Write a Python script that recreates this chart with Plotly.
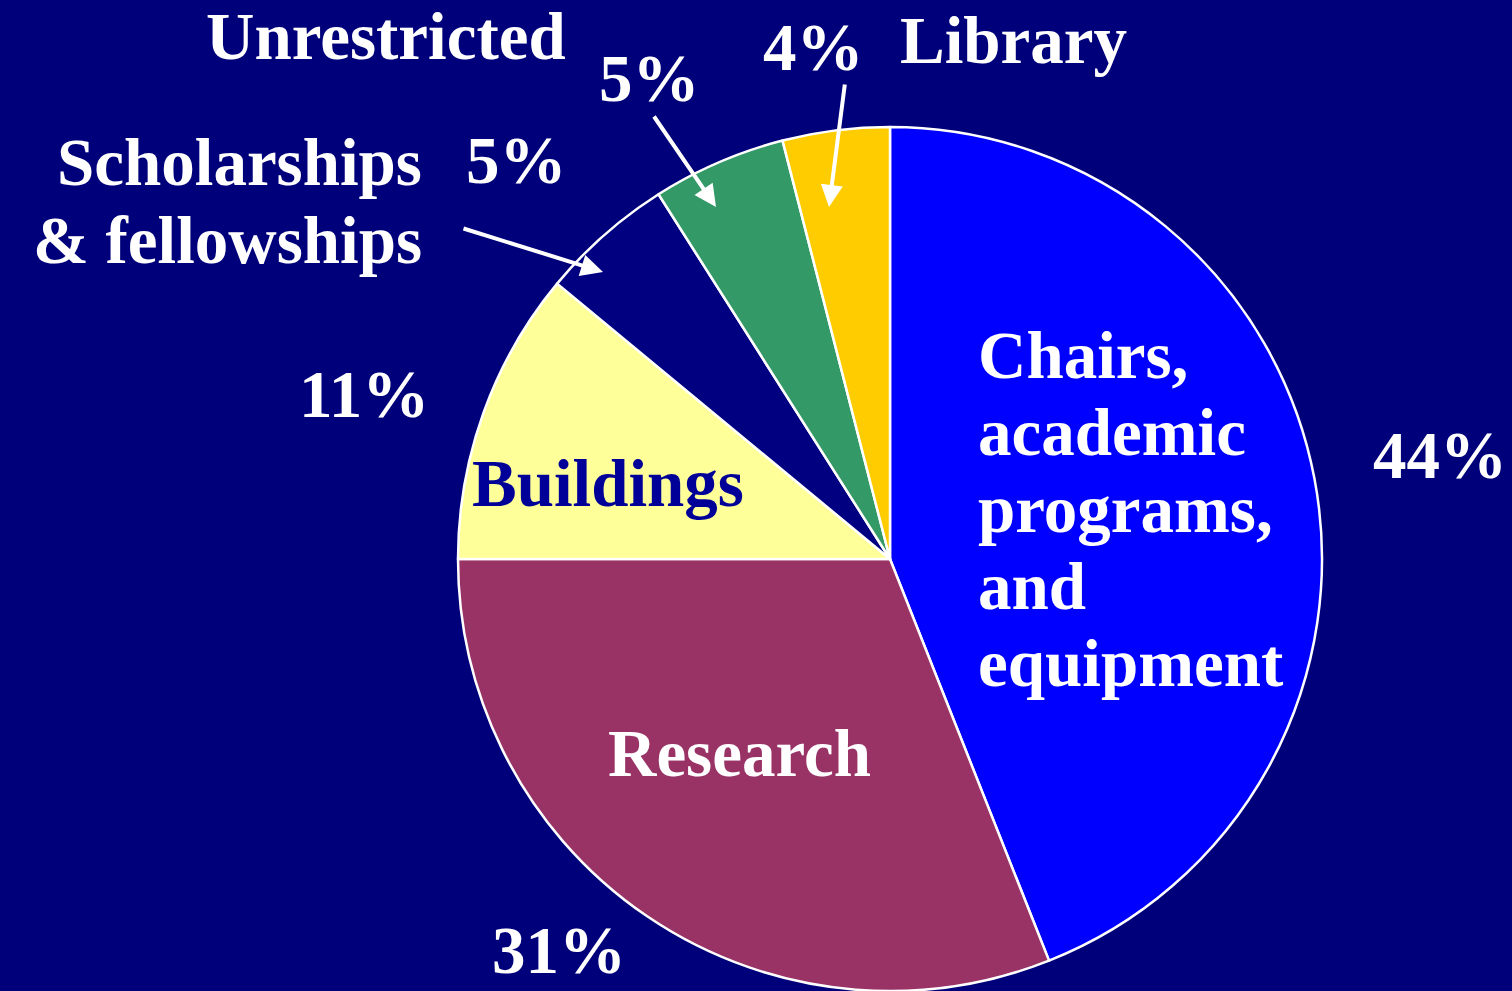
import plotly.graph_objects as go

# ---- data ----
categories = ["Chairs, academic programs, and equipment", "Research", "Buildings",
              "Scholarships & fellowships", "Unrestricted", "Library"]
values = [44, 31, 11, 5, 5, 4]
colors = ["#0000FF", "#993366", "#FFFF99", "#000080", "#339966", "#FFCC00"]
pct_labels = [f"{v}%" for v in values]

W, H = 1512, 991
FONT = "Liberation Serif"
FS = 67
BG = "#00007A"


def px(x, y):
    return x / W, 1 - y / H


fig = go.Figure()
fig.add_trace(go.Pie(
    labels=categories, values=values, sort=False, direction="clockwise", rotation=0,
    marker=dict(colors=colors, line=dict(color="white", width=2.5)),
    textinfo="none", hoverinfo="label+percent", showlegend=False,
    domain=dict(x=[(890 - 432) / W, (890 + 432) / W], y=[0, 864 / H]),
))

annotations = []


def txt(text, x, y, xanchor="center", color="white", size=FS):
    ax, ay = px(x, y)
    annotations.append(dict(text=text, x=ax, y=ay, xref="paper", yref="paper",
                            xanchor=xanchor, yanchor="middle", showarrow=False,
                            font=dict(family=FONT, size=size, color=color, weight="bold")))


def arrow(x0, y0, x1, y1):
    hx, hy = px(x1, y1)
    annotations.append(dict(text="", x=hx, y=hy, xref="paper", yref="paper",
                            ax=x0 - x1, ay=y0 - y1, axref="pixel", ayref="pixel",
                            showarrow=True, arrowhead=2, arrowsize=1.1, arrowwidth=4,
                            arrowcolor="white", standoff=0, startstandoff=0))


# category labels
txt(categories[4], 568, 36, xanchor="right")
txt("Scholarships", 424, 162, xanchor="right")
txt("& fellowships", 424, 240, xanchor="right")
txt(categories[5], 898, 40, xanchor="left")
txt(categories[2], 608, 483, color="#000099")
txt(categories[1], 739, 753)
for i, line in enumerate(["Chairs,", "academic", "programs,", "and", "equipment"]):
    txt(line, 976, 355 + i * 77, xanchor="left")

# percentage labels
txt(pct_labels[3], 516, 160)
txt(pct_labels[4], 649, 78)
txt(pct_labels[5], 813, 47)
txt(pct_labels[2], 364, 394)
txt(pct_labels[0], 1440, 455)
txt(pct_labels[1], 559, 950)

# arrows
arrow(462, 228, 603, 272)
arrow(653, 115, 716, 207)
arrow(845, 83, 829, 207)

fig.update_layout(
    width=W, height=H, margin=dict(l=0, r=0, t=0, b=0),
    paper_bgcolor=BG, plot_bgcolor=BG,
    annotations=annotations,
)

fig.write_html(
    "out.html",
    config={"displayModeBar": False},
    post_script=("document.body.style.margin='0';"
                 "document.body.style.overflow='hidden';"
                 f"document.body.style.background='{BG}';"),
)
